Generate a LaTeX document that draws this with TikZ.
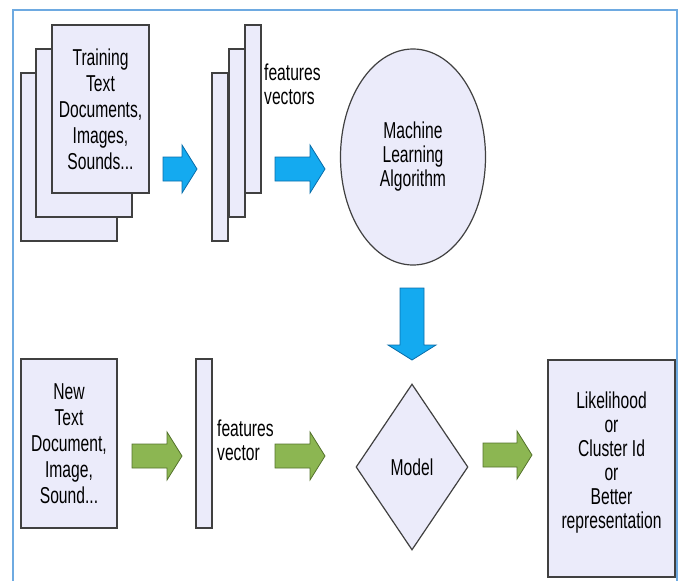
\documentclass[tikz,border=0pt]{standalone}
\usepackage{fontspec}
\setmainfont{Liberation Sans}[FakeStretch=0.68]
\usetikzlibrary{shapes.geometric}

\definecolor{pagefill}{RGB}{235,235,250}
\definecolor{pageline}{RGB}{64,64,64}
\definecolor{framecol}{RGB}{110,170,225}
\definecolor{bluefill}{RGB}{20,170,240}
\definecolor{blueline}{RGB}{10,110,170}
\definecolor{greenfill}{RGB}{140,182,82}
\definecolor{greenline}{RGB}{85,115,45}

\tikzset{
    page/.style={draw=pageline, fill=pagefill, line width=1.2pt, inner sep=0pt, align=center},
    bluearrow/.style={draw=blueline, fill=bluefill, line width=0.8pt},
    greenarrow/.style={draw=greenline, fill=greenfill, line width=0.8pt},
    % block arrow, #1 = length
    fatarrow/.pic={
        \path[pic actions] (0,-12) -- (#1-15,-12) -- (#1-15,-24) -- (#1,0) -- (#1-15,24) -- (#1-15,12) -- (0,12) -- cycle;
    }
}

\begin{document}
\begin{tikzpicture}[x=1pt, y=-1pt, font=\fontsize{23}{24}\selectfont]
    \useasboundingbox (0,0) rectangle (683,581);

    % Outer frame
    \draw[framecol, line width=2pt] (13,600) -- (13,10) -- (677,10) -- (677,600);

    % Training documents (stack of pages)
    \foreach \x/\y in {21/73, 36/49} {
        \draw[page] (\x,\y) rectangle ++(96,168);
    }
    \node[page, minimum width=97pt, minimum height=168pt, font=\fontsize{23}{26}\selectfont] (train) at (100.5,109)
        {Training\\Text\\Documents,\\Images,\\Sounds...};
    \pic[bluearrow] at (163,169) {fatarrow=34};

    % Features vectors (stack)
    \foreach \x/\y in {212/73, 229/49} {
        \draw[page] (\x,\y) rectangle ++(16,168);
    }
    \node[page, minimum width=16pt, minimum height=168pt] (fvecs) at (253,109) {};
    \node[anchor=west, align=left, inner sep=0pt] (fvecslabel) at (264,84) {features\\vectors};
    \pic[bluearrow] at (275,169) {fatarrow=50};

    % Learning algorithm
    \node[page, ellipse, minimum width=145pt, minimum height=216pt] (algo) at (413,157)
        {Machine\\Learning\\Algorithm};
    \pic[bluearrow, rotate=-90] at (412,288) {fatarrow=72};

    % New document
    \node[page, minimum width=96pt, minimum height=169pt, font=\fontsize{23}{26}\selectfont] (newdoc) at (69,443.5)
        {New\\Text\\Document,\\Image,\\Sound...};
    \pic[greenarrow] at (132,456) {fatarrow=50};

    % Features vector
    \node[page, minimum width=16pt, minimum height=169pt] (fvec) at (204,443.5) {};
    \node[anchor=west, align=left, inner sep=0pt] (fveclabel) at (217,440) {features\\vector};
    \pic[greenarrow] at (275,456) {fatarrow=50};

    % Model
    \node[page, diamond, minimum width=112pt, minimum height=166pt] (model) at (412,467) {Model};
    \pic[greenarrow] at (483,455) {fatarrow=49};

    % Output
    \node[page, minimum width=127pt, minimum height=217pt] (result) at (611.5,468.5)
        {Likelihood\\or\\Cluster Id\\or\\Better\\representation\\[-8pt]};
\end{tikzpicture}
\end{document}
